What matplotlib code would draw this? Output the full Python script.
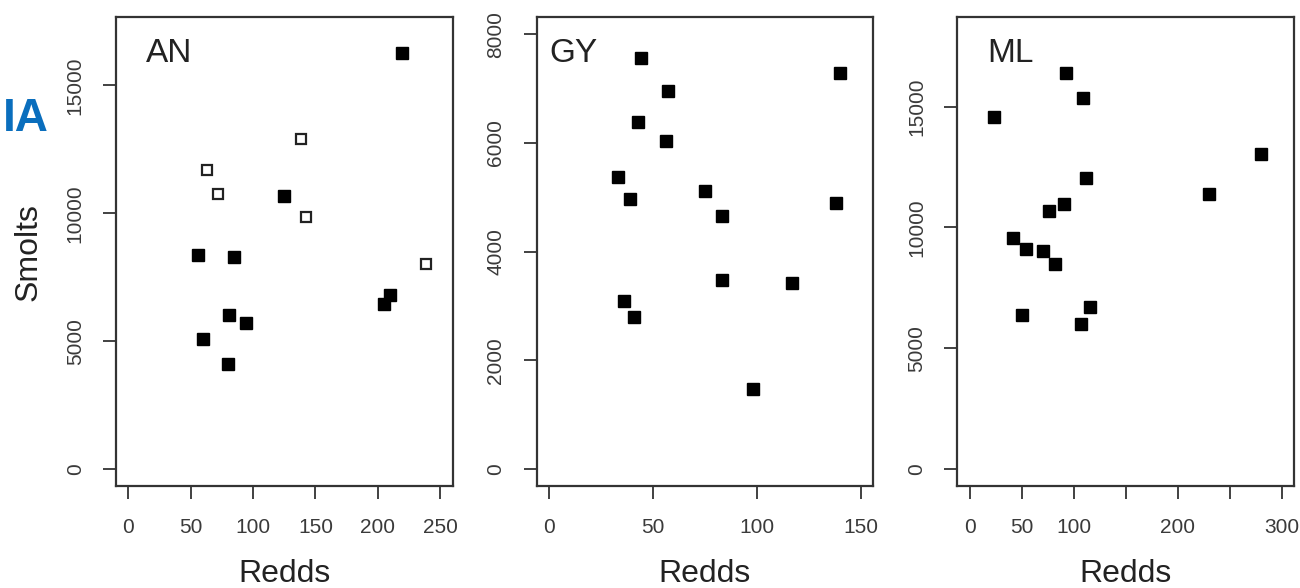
import matplotlib
matplotlib.use("Agg")
import matplotlib.pyplot as plt

plt.rcParams["font.family"] = ["Liberation Sans", "DejaVu Sans"]

# AN: two groups of years (filled and open squares)
an_filled_redds = [219, 125, 56, 85, 205, 210, 81, 94, 60, 80]
an_filled_smolts = [16280, 10670, 8380, 8280, 6440, 6810, 6030, 5710, 5090, 4120]
an_open_redds = [138, 63, 72, 142, 239]
an_open_smolts = [12900, 11700, 10770, 9850, 8030]

# GY
gy_redds = [44, 140, 57, 43, 56, 33, 39, 75, 83, 138, 83, 117, 36, 41, 98]
gy_smolts = [7565, 7296, 6965, 6379, 6040, 5377, 4970, 5122, 4660, 4894,
             3486, 3423, 3098, 2788, 1477]

# ML
ml_redds = [93, 109, 23, 280, 112, 230, 91, 76, 42, 54, 70, 82, 50, 116, 107]
ml_smolts = [16410, 15370, 14580, 13060, 12050, 11390, 10960, 10680, 9580,
             9100, 9020, 8480, 6380, 6710, 6020]

panel_names = ["AN", "GY", "ML"]
x_ranges = [(0, 250), (0, 150), (0, 300)]
y_ranges = [(0, 17000), (0, 8000), (0, 18000)]
x_ticks = [[0, 50, 100, 150, 200, 250], [0, 50, 100, 150],
           [0, 50, 100, 150, 200, 250, 300]]
x_ticklabels = [["0", "50", "100", "150", "200", "250"],
                ["0", "50", "100", "150"],
                ["0", "50", "100", "", "200", "", "300"]]
y_ticks = [[0, 5000, 10000, 15000], [0, 2000, 4000, 6000, 8000],
           [0, 5000, 10000, 15000]]

ink = "#333333"
fig = plt.figure(figsize=(13, 5.88), dpi=100)
lefts = [0.0892, 0.4128, 0.7364]
axes = [fig.add_axes([l, 0.1728, 0.259, 0.7985]) for l in lefts]


def expand(lo, hi, frac=0.04):
    r = hi - lo
    return lo - frac * r, hi + frac * r


for i, ax in enumerate(axes):
    ax.set_xlim(*expand(*x_ranges[i]))
    ax.set_ylim(*expand(*y_ranges[i]))
    ax.set_xticks(x_ticks[i])
    ax.set_xticklabels(x_ticklabels[i])
    ax.set_yticks(y_ticks[i])
    ax.set_yticklabels([str(v) for v in y_ticks[i]], rotation=90, va="center")
    for s in ax.spines.values():
        s.set_linewidth(1.6)
        s.set_color(ink)
    ax.tick_params(direction="out", length=9.5, width=1.3, color=ink,
                   labelcolor="#3a3a3a", labelsize=15, pad=13)
    ax.set_xlabel("Redds", fontsize=23, color="#222222", labelpad=16)
    ax.text(0.09 if i != 1 else 0.037, 0.922, panel_names[i],
            transform=ax.transAxes, fontsize=24, color="#222222",
            ha="left", va="center")

sq = dict(marker="s", linestyle="none", markersize=8)
axes[0].plot(an_filled_redds, an_filled_smolts, color="black", **sq)
axes[0].plot(an_open_redds, an_open_smolts, markerfacecolor="white",
             markeredgecolor="#222222", markeredgewidth=1.6,
             linestyle="none", marker="s", markersize=7.5)
axes[1].plot(gy_redds, gy_smolts, color="black", **sq)
axes[2].plot(ml_redds, ml_smolts, color="black", **sq)

axes[0].set_ylabel("Smolts", fontsize=23, color="#222222", labelpad=16)

fig.text(3 / 1300, 0.797, "IA", fontsize=33, fontweight="bold",
         color="#0a6ebd", ha="left", va="center")

fig.savefig("out.png", dpi=100)
